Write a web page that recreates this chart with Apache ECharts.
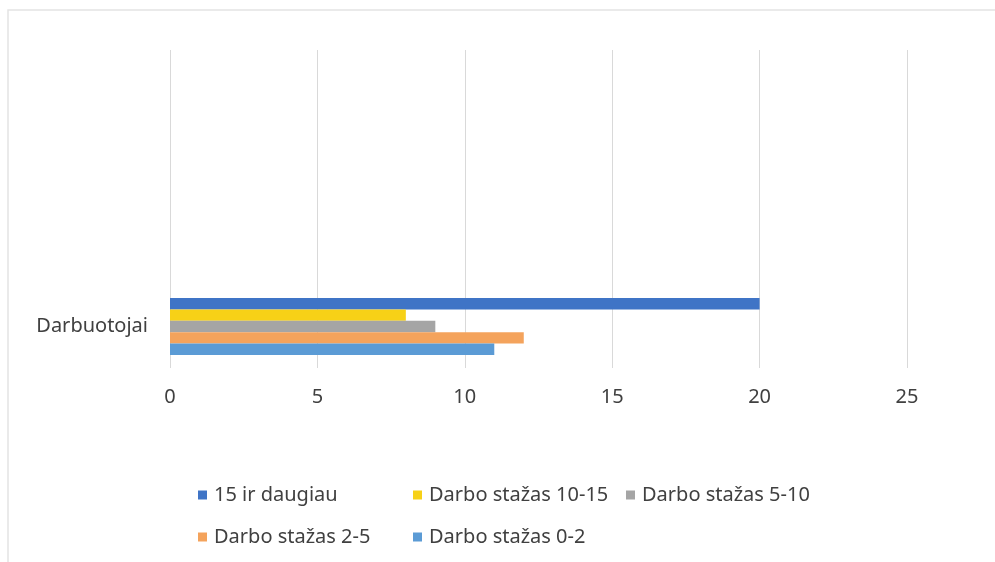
<!DOCTYPE html>
<html>
<head>
<meta charset="utf-8">
<script src="https://cdn.jsdelivr.net/npm/echarts@6/dist/echarts.min.js"></script>
<style>
  html, body { margin: 0; padding: 0; background: #fff; }
  #chart { width: 995px; height: 562px; }
</style>
</head>
<body>
<div id="chart"></div>
<script>
var categories = ['Darbuotojai'];
// first series is drawn at the top of the band
var seriesNames = ['15 ir daugiau', 'Darbo stažas 10-15', 'Darbo stažas 5-10', 'Darbo stažas 2-5', 'Darbo stažas 0-2'];
var seriesValues = [[20], [8], [9], [12], [11]];
var seriesColors = ['#3f74c6', '#f7d117', '#a5a5a5', '#f4a35c', '#5b9bd5'];
var xTicks = [0, 5, 10, 15, 20, 25];

var font = '"Noto Sans", "Open Sans", sans-serif';
var textColor = '#404040';

var chart = echarts.init(document.getElementById('chart'));

var series = seriesNames.map(function (name, i) {
    return {
        name: name,
        type: 'bar',
        xAxisIndex: 0,
        yAxisIndex: 0,
        data: seriesValues[i],
        barWidth: 11.4,
        barGap: '0%',
        itemStyle: { color: seriesColors[i] }
    };
});

var legendItem = function (names, left) {
    return {
        orient: 'vertical',
        left: left,
        top: 480,
        itemWidth: 9,
        itemHeight: 9,
        itemGap: 22,
        icon: 'rect',
        selectedMode: false,
        data: names,
        textStyle: { fontFamily: font, fontSize: 20, color: textColor, padding: [0, 0, 0, 2] }
    };
};

var option = {
    animation: false,
    backgroundColor: '#fff',
    graphic: [{
        type: 'rect',
        shape: { x: 8, y: 10, width: 995, height: 560 },
        style: { fill: 'none', stroke: '#e4e4e4', lineWidth: 1.5 }
    }],
    legend: [
        legendItem(['15 ir daugiau', 'Darbo stažas 2-5'], 193),
        legendItem(['Darbo stažas 10-15', 'Darbo stažas 0-2'], 408),
        legendItem(['Darbo stažas 5-10'], 621)
    ],
    grid: [
        { left: 170, right: 88, top: 285, height: 83 },
        { left: 170, right: 88, top: 50, height: 318 }
    ],
    xAxis: [{
        gridIndex: 0,
        type: 'value',
        min: xTicks[0],
        max: xTicks[xTicks.length - 1],
        interval: 5,
        axisLine: { show: false },
        axisTick: { show: false },
        splitLine: { show: false },
        axisLabel: { fontFamily: font, fontSize: 20, color: textColor, margin: 19 }
    }, {
        gridIndex: 1,
        type: 'value',
        min: xTicks[0],
        max: xTicks[xTicks.length - 1],
        interval: 5,
        axisLine: { show: false },
        axisTick: { show: false },
        axisLabel: { show: false },
        splitLine: { show: true, lineStyle: { color: '#d9d9d9', width: 1 } }
    }],
    yAxis: [{
        gridIndex: 0,
        type: 'category',
        data: categories,
        axisLine: { show: false },
        axisTick: { show: false },
        axisLabel: { fontFamily: font, fontSize: 20, color: textColor, margin: 22 }
    }, {
        gridIndex: 1,
        type: 'category',
        data: categories,
        show: false
    }],
    series: series
};

chart.setOption(option);
</script>
</body>
</html>
